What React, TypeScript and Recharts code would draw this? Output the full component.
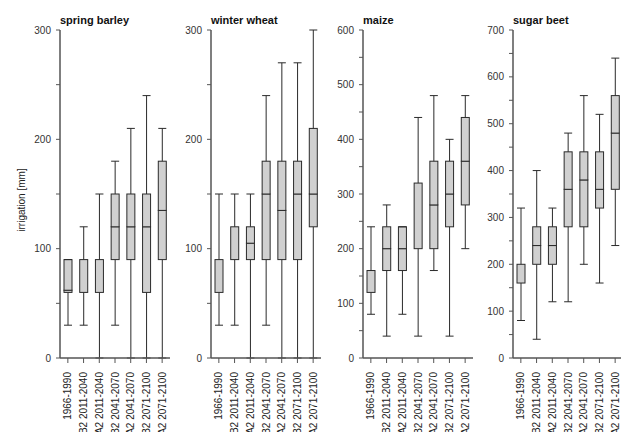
import React from "react";
import { ComposedChart, Bar, XAxis, YAxis } from "recharts";

const periods = [
  "1966-1990",
  "B2 2011-2040",
  "A2 2011-2040",
  "B2 2041-2070",
  "A2 2041-2070",
  "B2 2071-2100",
  "A2 2071-2100",
];

// box statistics per period: whisker low, lower quartile, median, upper quartile, whisker high
const barleyLow = [30, 30, 0, 30, 0, 0, 0];
const barleyQ1 = [60, 60, 60, 90, 90, 60, 90];
const barleyMedian = [62, 90, 90, 120, 120, 120, 135];
const barleyQ3 = [90, 90, 90, 150, 150, 150, 180];
const barleyHigh = [90, 120, 150, 180, 210, 240, 210];

const wheatLow = [30, 30, 0, 30, 0, 0, 0];
const wheatQ1 = [60, 90, 90, 90, 90, 90, 120];
const wheatMedian = [90, 120, 105, 150, 135, 150, 150];
const wheatQ3 = [90, 120, 120, 180, 180, 180, 210];
const wheatHigh = [150, 150, 150, 240, 270, 270, 300];

const maizeLow = [80, 40, 80, 40, 160, 40, 200];
const maizeQ1 = [120, 160, 160, 200, 200, 240, 280];
const maizeMedian = [160, 200, 200, 320, 280, 300, 360];
const maizeQ3 = [160, 240, 240, 320, 360, 360, 440];
const maizeHigh = [240, 280, 240, 440, 480, 400, 480];

const beetLow = [80, 40, 120, 120, 200, 160, 240];
const beetQ1 = [160, 200, 200, 280, 280, 320, 360];
const beetMedian = [200, 240, 240, 360, 380, 360, 480];
const beetQ3 = [200, 280, 280, 440, 440, 440, 560];
const beetHigh = [320, 400, 320, 480, 560, 520, 640];

const yMax = [300, 300, 600, 700];
const titles = ["spring barley", "winter wheat", "maize", "sugar beet"];

const FONT = "'Liberation Sans', Arial, sans-serif";
const BOX_FILL = "#d0d0d0";
const INK = "#2a2a2a";
const AXIS = "#555";

function buildRows(
  low: number[],
  q1: number[],
  med: number[],
  q3: number[],
  high: number[]
) {
  return periods.map((p, i) => ({
    period: p,
    base: low[i],
    lowWhisker: q1[i] - low[i],
    lowBox: med[i] - q1[i],
    highBox: q3[i] - med[i],
    highWhisker: high[i] - q3[i],
  }));
}

const panels = [
  buildRows(barleyLow, barleyQ1, barleyMedian, barleyQ3, barleyHigh),
  buildRows(wheatLow, wheatQ1, wheatMedian, wheatQ3, wheatHigh),
  buildRows(maizeLow, maizeQ1, maizeMedian, maizeQ3, maizeHigh),
  buildRows(beetLow, beetQ1, beetMedian, beetQ3, beetHigh),
];

const Empty = () => <g />;

const LowWhisker = (props: any) => {
  const { x, y, width, height } = props;
  const cx = x + width / 2;
  return (
    <g>
      <line x1={cx} x2={cx} y1={y} y2={y + height} stroke={INK} strokeWidth={1} />
      <line x1={x} x2={x + width} y1={y + height} y2={y + height} stroke={INK} strokeWidth={1} />
    </g>
  );
};

const HighWhisker = (props: any) => {
  const { x, y, width, height } = props;
  const cx = x + width / 2;
  return (
    <g>
      <line x1={cx} x2={cx} y1={y} y2={y + height} stroke={INK} strokeWidth={1} />
      <line x1={x} x2={x + width} y1={y} y2={y} stroke={INK} strokeWidth={1} />
    </g>
  );
};

const BoxPart = (props: any) => {
  const { x, y, width, height } = props;
  return (
    <rect
      x={x}
      y={y}
      width={width}
      height={Math.max(height, 0)}
      fill={BOX_FILL}
      stroke={INK}
      strokeWidth={1}
    />
  );
};

const PeriodTick = (props: any) => {
  const { x, y, payload } = props;
  return (
    <g transform={`translate(${x},${y})`}>
      <text
        transform="rotate(-90)"
        x={-7}
        y={0}
        dy="0.35em"
        textAnchor="end"
        fontSize={10}
        fontFamily={FONT}
        fill="#222"
      >
        {payload.value}
      </text>
    </g>
  );
};

function Panel({ index }: { index: number }) {
  const max = yMax[index];
  const ticks: number[] = [];
  for (let v = 0; v <= max; v += 50) ticks.push(v);
  return (
    <ComposedChart
      width={170}
      height={432}
      data={panels[index]}
      margin={{ top: 30, right: 0, bottom: 0, left: 0 }}
      barSize={8}
    >
      <XAxis
        dataKey="period"
        interval={0}
        height={74}
        tick={<PeriodTick />}
        tickSize={5}
        tickMargin={2}
        axisLine={{ stroke: AXIS, strokeWidth: 1.5 }}
        tickLine={{ stroke: AXIS }}
      />
      <XAxis
        xAxisId="top"
        dataKey="period"
        orientation="top"
        height={0}
        tick={false}
        tickLine={false}
        axisLine={{ stroke: "#777", strokeWidth: 1.5 }}
      />
      <YAxis
        domain={[0, max]}
        ticks={ticks}
        interval={0}
        width={60}
        tickSize={4}
        tickMargin={5}
        tickFormatter={(v: number) => (v % 100 === 0 ? String(v) : "")}
        tick={{ fontSize: 10, fontFamily: FONT, fill: "#333" }}
        axisLine={{ stroke: AXIS, strokeWidth: 1.5 }}
        tickLine={{ stroke: AXIS }}
      />
      <YAxis
        yAxisId="right"
        orientation="right"
        domain={[0, max]}
        width={0}
        tick={false}
        tickLine={false}
        axisLine={{ stroke: "#777", strokeWidth: 1.5 }}
      />
      <Bar dataKey="base" stackId="b" shape={<Empty />} isAnimationActive={false} />
      <Bar dataKey="lowWhisker" stackId="b" shape={<LowWhisker />} isAnimationActive={false} />
      <Bar dataKey="lowBox" stackId="b" shape={<BoxPart />} isAnimationActive={false} />
      <Bar dataKey="highBox" stackId="b" shape={<BoxPart />} isAnimationActive={false} />
      <Bar dataKey="highWhisker" stackId="b" shape={<HighWhisker />} isAnimationActive={false} />
    </ComposedChart>
  );
}

const panelLefts = [0, 151, 303, 453];

export default function App() {
  return (
    <div
      style={{
        position: "absolute",
        left: 0,
        top: 0,
        width: 621,
        height: 432,
        background: "#fff",
        overflow: "hidden",
        fontFamily: FONT,
      }}
    >
      {panelLefts.map((left, i) => (
        <div key={i} style={{ position: "absolute", left, top: 0 }}>
          <Panel index={i} />
          <div
            style={{
              position: "absolute",
              left: 60,
              top: 14,
              fontSize: 11,
              lineHeight: "12px",
              fontWeight: "bold",
              whiteSpace: "nowrap",
              color: "#111",
            }}
          >
            {titles[i]}
          </div>
        </div>
      ))}
      <div
        style={{
          position: "absolute",
          left: 21,
          top: 200,
          transform: "translate(-50%, -50%) rotate(-90deg)",
          fontSize: 10,
          whiteSpace: "nowrap",
          color: "#222",
        }}
      >
        irrigation [mm]
      </div>
    </div>
  );
}
